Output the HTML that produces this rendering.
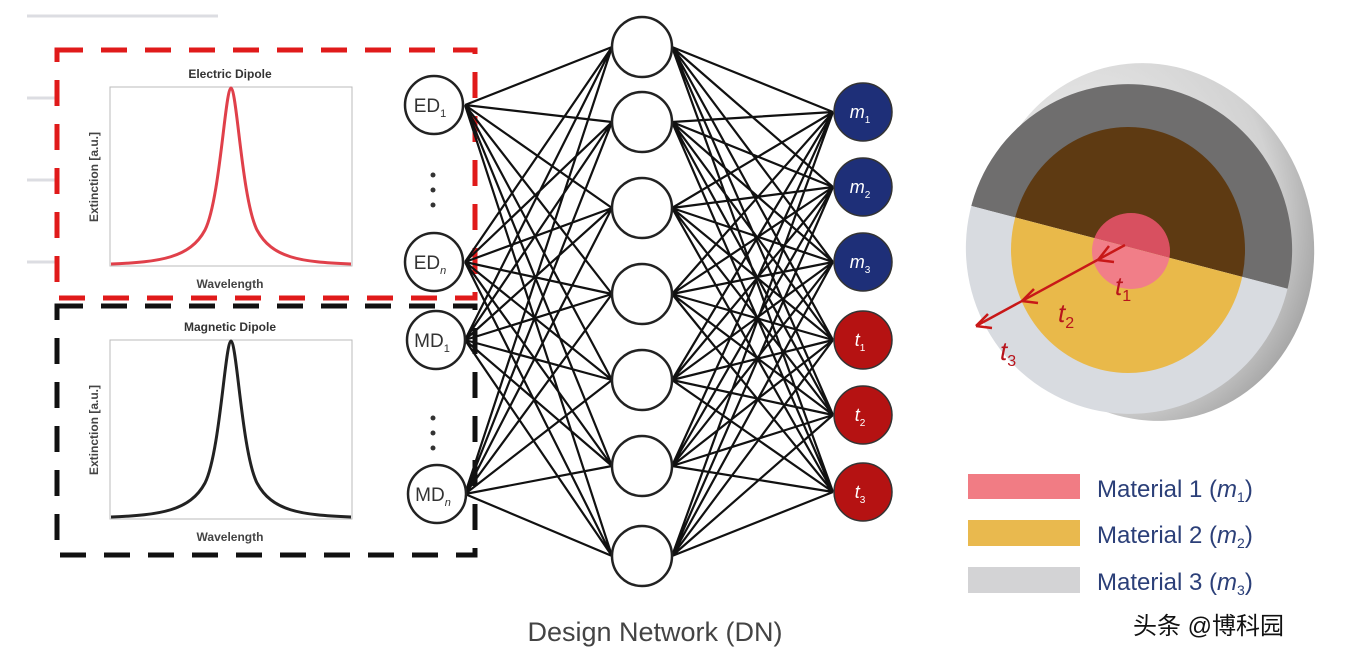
<!DOCTYPE html>
<html><head><meta charset="utf-8"><style>
html,body{margin:0;padding:0;background:#fff;}
svg{display:block;}
text{font-family:"Liberation Sans","Noto Sans CJK SC",sans-serif;}
</style></head><body>
<svg width="1368" height="659" viewBox="0 0 1368 659" xmlns="http://www.w3.org/2000/svg">
<defs>
<clipPath id="top"><polygon points="900,0 1368,0 1368,300 1300,292 960,203 900,188"/></clipPath>
<clipPath id="bot"><polygon points="900,188 960,203 1300,292 1368,300 1368,659 900,659"/></clipPath>
<radialGradient id="rim" cx="0.35" cy="0.35" r="0.75"><stop offset="0" stop-color="#f2f2f2"/><stop offset="0.75" stop-color="#d2d2d2"/><stop offset="1" stop-color="#9c9c9c"/></radialGradient>
</defs>
<g stroke="#dcdde2" stroke-width="3">
<line x1="27" y1="16" x2="218" y2="16"/>
<line x1="27" y1="98" x2="55" y2="98"/>
<line x1="27" y1="180" x2="55" y2="180"/>
<line x1="27" y1="262" x2="55" y2="262"/>
</g>
<rect x="57" y="306" width="418" height="249" fill="none" stroke="#111" stroke-width="5" stroke-dasharray="26,18"/>
<rect x="57" y="50" width="418" height="248" fill="none" stroke="#e01a1a" stroke-width="5" stroke-dasharray="26,18"/>
<text x="230" y="78" font-size="12" font-weight="bold" fill="#333" text-anchor="middle">Electric Dipole</text>
<rect x="110" y="87" width="242" height="179" fill="#fff" stroke="#bbb" stroke-width="1"/>
<path d="M111 264 C160 262 190 258 205 230 C220 200 225 90 231 88 C237 90 242 200 257 230 C272 258 300 262 351 264" fill="none" stroke="#e0404a" stroke-width="3"/>
<text transform="translate(98 177) rotate(-90)" font-size="12" font-weight="bold" fill="#444" text-anchor="middle">Extinction [a.u.]</text>
<text x="230" y="288" font-size="12" font-weight="bold" fill="#444" text-anchor="middle">Wavelength</text>
<text x="230" y="331" font-size="12" font-weight="bold" fill="#333" text-anchor="middle">Magnetic Dipole</text>
<rect x="110" y="340" width="242" height="179" fill="#fff" stroke="#bbb" stroke-width="1"/>
<path d="M111 517 C160 515 190 511 205 483 C220 453 225 343 231 341 C237 343 242 453 257 483 C272 511 300 515 351 517" fill="none" stroke="#222" stroke-width="3"/>
<text transform="translate(98 430) rotate(-90)" font-size="12" font-weight="bold" fill="#444" text-anchor="middle">Extinction [a.u.]</text>
<text x="230" y="541" font-size="12" font-weight="bold" fill="#444" text-anchor="middle">Wavelength</text>
<g stroke="#111" stroke-width="2.2" fill="none">
<path d="M465 105L612 47M465 105L612 122M465 105L612 208M465 105L612 294M465 105L612 380M465 105L612 466M465 105L612 556
M465 262L612 47M465 262L612 122M465 262L612 208M465 262L612 294M465 262L612 380M465 262L612 466M465 262L612 556
M465 340L612 47M465 340L612 122M465 340L612 208M465 340L612 294M465 340L612 380M465 340L612 466M465 340L612 556
M465 494L612 47M465 494L612 122M465 494L612 208M465 494L612 294M465 494L612 380M465 494L612 466M465 494L612 556"/>
<path d="M672 47L833 112M672 47L833 187M672 47L833 262M672 47L833 340M672 47L833 415M672 47L833 492
M672 122L833 112M672 122L833 187M672 122L833 262M672 122L833 340M672 122L833 415M672 122L833 492
M672 208L833 112M672 208L833 187M672 208L833 262M672 208L833 340M672 208L833 415M672 208L833 492
M672 294L833 112M672 294L833 187M672 294L833 262M672 294L833 340M672 294L833 415M672 294L833 492
M672 380L833 112M672 380L833 187M672 380L833 262M672 380L833 340M672 380L833 415M672 380L833 492
M672 466L833 112M672 466L833 187M672 466L833 262M672 466L833 340M672 466L833 415M672 466L833 492
M672 556L833 112M672 556L833 187M672 556L833 262M672 556L833 340M672 556L833 415M672 556L833 492"/>
</g>
<g fill="#fff" stroke="#222" stroke-width="2.5">
<circle cx="434" cy="105" r="29"/><circle cx="434" cy="262" r="29"/>
<circle cx="436" cy="340" r="29"/><circle cx="437" cy="494" r="29"/>
</g>
<g font-size="19" fill="#333" text-anchor="middle">
<text x="430" y="112">ED<tspan font-size="11" dy="5">1</tspan></text>
<text x="430" y="269">ED<tspan font-size="11" dy="5" font-style="italic">n</tspan></text>
<text x="432" y="347">MD<tspan font-size="11" dy="5">1</tspan></text>
<text x="433" y="501">MD<tspan font-size="11" dy="5" font-style="italic">n</tspan></text>
</g>
<g fill="#333"><circle cx="433" cy="175" r="2.5"/><circle cx="433" cy="190" r="2.5"/><circle cx="433" cy="205" r="2.5"/>
<circle cx="433" cy="418" r="2.5"/><circle cx="433" cy="433" r="2.5"/><circle cx="433" cy="448" r="2.5"/></g>
<g fill="#fff" stroke="#222" stroke-width="2.5">
<circle cx="642" cy="47" r="30"/><circle cx="642" cy="122" r="30"/><circle cx="642" cy="208" r="30"/>
<circle cx="642" cy="294" r="30"/><circle cx="642" cy="380" r="30"/><circle cx="642" cy="466" r="30"/><circle cx="642" cy="556" r="30"/>
</g>
<g stroke="#333" stroke-width="1.5">
<circle cx="863" cy="112" r="29" fill="#1e2f78"/><circle cx="863" cy="187" r="29" fill="#1e2f78"/><circle cx="863" cy="262" r="29" fill="#1e2f78"/>
<circle cx="863" cy="340" r="29" fill="#b51212"/><circle cx="863" cy="415" r="29" fill="#b51212"/><circle cx="863" cy="492" r="29" fill="#b51212"/>
</g>
<g font-size="18" fill="#fff" font-style="italic" text-anchor="middle">
<text x="860" y="118">m<tspan font-size="10" dy="5" font-style="normal">1</tspan></text>
<text x="860" y="193">m<tspan font-size="10" dy="5" font-style="normal">2</tspan></text>
<text x="860" y="268">m<tspan font-size="10" dy="5" font-style="normal">3</tspan></text>
<text x="860" y="346">t<tspan font-size="10" dy="5" font-style="normal">1</tspan></text>
<text x="860" y="421">t<tspan font-size="10" dy="5" font-style="normal">2</tspan></text>
<text x="860" y="498">t<tspan font-size="10" dy="5" font-style="normal">3</tspan></text>
</g>
<text x="655" y="641" font-size="27" fill="#444" text-anchor="middle">Design Network (DN)</text>
<!-- disc -->
<ellipse cx="1150" cy="242" rx="163" ry="180" fill="url(#rim)" transform="rotate(-15 1150 242)"/>
<g clip-path="url(#top)">
<ellipse cx="1129" cy="249" rx="163" ry="165" fill="#6f6e6e" transform="rotate(-15 1129 249)"/>
<ellipse cx="1128" cy="250" rx="117" ry="123" fill="#5e3a12"/>
<ellipse cx="1131" cy="251" rx="39" ry="38" fill="#d85060"/>
</g>
<g clip-path="url(#bot)">
<ellipse cx="1129" cy="249" rx="163" ry="165" fill="#d8dbe0" transform="rotate(-15 1129 249)"/>
<ellipse cx="1128" cy="250" rx="117" ry="123" fill="#e9b94a"/>
<ellipse cx="1131" cy="251" rx="39" ry="38" fill="#f17e88"/>
</g>
<g stroke="#c81818" stroke-width="2.5" fill="none">
<line x1="1125" y1="245" x2="976" y2="326"/>
<path d="M1098 260 L1109 246 M1098 260 L1114 262"/>
<path d="M1022 301 L1034 289 M1022 301 L1038 303"/>
<path d="M976 326 L988 314 M976 326 L992 328"/>
</g>
<g font-size="26" font-style="italic" fill="#b8141c">
<text x="1115" y="295" font-family="Liberation Serif">t<tspan font-size="16" dy="6" font-style="normal">1</tspan></text>
<text x="1058" y="322" font-family="Liberation Serif">t<tspan font-size="16" dy="6" font-style="normal">2</tspan></text>
<text x="1000" y="360" font-family="Liberation Serif">t<tspan font-size="16" dy="6" font-style="normal">3</tspan></text>
</g>
<rect x="968" y="474" width="112" height="25" fill="#f17c84"/>
<rect x="968" y="520" width="112" height="26" fill="#e9b94e"/>
<rect x="968" y="567" width="112" height="26" fill="#d3d3d5"/>
<g font-size="24" fill="#2b3f78">
<text x="1097" y="497">Material 1 (<tspan font-style="italic">m</tspan><tspan font-size="14" dy="5">1</tspan><tspan dy="-5">)</tspan></text>
<text x="1097" y="543">Material 2 (<tspan font-style="italic">m</tspan><tspan font-size="14" dy="5">2</tspan><tspan dy="-5">)</tspan></text>
<text x="1097" y="590">Material 3 (<tspan font-style="italic">m</tspan><tspan font-size="14" dy="5">3</tspan><tspan dy="-5">)</tspan></text>
</g>
<text x="1133" y="634" font-size="24" fill="#111">头条 @博科园</text>
</svg>
</body></html>
